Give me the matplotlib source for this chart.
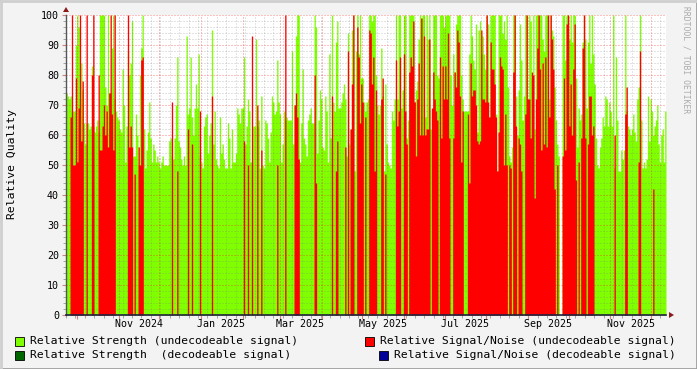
import datetime as dt
import numpy as np
import matplotlib
matplotlib.use("Agg")
import matplotlib.pyplot as plt
import matplotlib.dates as mdates
import matplotlib.transforms as mtransforms
from matplotlib.patches import Rectangle, Polygon
from matplotlib.lines import Line2D

# ---------------- data (one consolidated value per step, starting 2024-09-23) ----------------
start_date = dt.datetime(2024, 9, 23)
step = dt.timedelta(hours=23.75)

strength_undecodeable = [
    # strip 1
    74, 73, 72, 73, 68, 68, 68, 90, 100, 96, 72, 84, 75, 64, 57, 64, 64, 62, 63, 83,
    63, 61, 63, 65, 61, 100, 100, 100, 100, 76, 70, 100, 74, 74, 89, 100, 72, 68, 66, 65,
    62, 61, 82, 70, 51, 63, 88, 80, 84, 98, 53, 53, 67, 60, 50, 80, 89, 100, 62, 49,
    55, 61, 71, 59, 51, 57, 55, 51, 53, 51, 49, 51, 53, 50, 50,
    # strip 2
    50, 50, 58, 59, 53, 52, 59, 70, 86, 58, 56, 52, 50, 53, 50, 93, 67, 69, 86, 66,
    60, 69, 77, 69, 87, 53, 51, 49, 63, 66, 67, 54, 60, 64, 95, 57, 68, 52, 50, 49,
    66, 54, 57, 52, 49, 49, 64, 59, 49, 62, 51, 51, 54, 69, 67, 64, 69, 69, 86, 57,
    63, 72, 68, 51, 51, 63, 63, 92, 63, 65, 49, 73, 50, 49, 65,
    # strip 3
    64, 59, 51, 61, 73, 71, 67, 68, 85, 71, 67, 51, 57, 68, 65, 66, 65, 65, 65, 88,
    57, 70, 93, 100, 100, 51, 64, 82, 59, 57, 53, 65, 67, 69, 64, 64, 100, 96, 54, 65,
    75, 72, 56, 55, 73, 68, 51, 87, 59, 100, 71, 68, 91, 98, 69, 69, 71, 74, 77, 72,
    53, 94, 57, 62, 95, 100, 48, 88, 100, 87, 100, 79, 79, 71, 68,
    # strip 4
    71, 72, 100, 100, 98, 100, 100, 80, 70, 67, 70, 89, 73, 48, 77, 57, 51, 50, 49, 68,
    65, 72, 100, 72, 100, 100, 69, 75, 100, 100, 59, 65, 100, 100, 100, 100, 71, 75, 78, 92,
    100, 99, 100, 100, 66, 100, 92, 100, 62, 68, 100, 100, 100, 80, 79, 100, 100, 100, 96, 100,
    100, 100, 100, 80, 70, 87, 81, 97, 100, 100, 100, 80, 72, 68, 68,
    # strip 5
    68, 68, 87, 100, 93, 85, 82, 97, 61, 95, 98, 87, 93, 87, 82, 100, 97, 63, 100, 100,
    100, 100, 67, 48, 100, 100, 100, 94, 98, 92, 100, 76, 53, 51, 56, 100, 100, 73, 60, 75,
    97, 85, 65, 73, 100, 100, 59, 100, 98, 79, 100, 62, 100, 100, 100, 100, 100, 92, 88, 100,
    100, 100, 72, 100, 95, 93, 76, 65, 57, 53, 0, 0, 100, 100, 85,
    # strip 6
    100, 100, 92, 100, 91, 100, 100, 79, 56, 69, 65, 67, 91, 100, 92, 69, 91, 100, 84, 100,
    87, 77, 59, 50, 49, 56, 59, 66, 63, 73, 72, 63, 71, 68, 63, 100, 49, 86, 65, 48,
    48, 55, 52, 55, 100, 68, 63, 62, 60, 62, 67, 61, 58, 72, 76, 100, 65, 49, 51, 49,
    52, 73, 58, 72, 68, 60, 63, 65, 70, 57, 51, 60, 62, 51, 68,
]

snr_undecodeable = [
    # strip 1
    0, 0, 0, 66, 100, 50, 50, 79, 51, 69, 100, 58, 78, 0, 0, 100, 0, 0, 0, 80,
    100, 0, 0, 0, 80, 55, 55, 63, 70, 60, 68, 56, 74, 100, 67, 55, 100, 0, 0, 0,
    0, 0, 0, 0, 0, 0, 100, 56, 63, 56, 0, 47, 0, 0, 56, 50, 85, 86, 0, 0,
    0, 0, 0, 0, 0, 0, 0, 0, 0, 0, 0, 0, 0, 0, 0,
    # strip 2
    0, 0, 0, 0, 71, 0, 0, 0, 48, 0, 0, 0, 0, 0, 0, 0, 62, 0, 0, 57,
    0, 0, 0, 0, 0, 68, 0, 0, 0, 0, 0, 0, 0, 0, 73, 0, 0, 0, 0, 0,
    0, 0, 0, 0, 0, 0, 0, 0, 0, 0, 0, 0, 0, 0, 0, 0, 0, 0, 58, 0,
    0, 50, 0, 0, 93, 0, 0, 0, 70, 0, 0, 55, 0, 0, 0,
    # strip 3
    0, 0, 0, 0, 0, 0, 0, 0, 50, 0, 0, 0, 0, 0, 100, 0, 0, 0, 0, 0,
    0, 70, 74, 66, 52, 0, 0, 0, 0, 0, 0, 0, 0, 0, 0, 0, 80, 44, 0, 0,
    0, 0, 0, 0, 0, 0, 0, 0, 0, 73, 0, 0, 48, 58, 0, 0, 0, 0, 0, 56,
    0, 88, 0, 62, 77, 100, 0, 0, 96, 86, 64, 77, 71, 0, 66,
    # strip 4
    0, 0, 95, 94, 77, 86, 48, 75, 0, 0, 0, 72, 79, 0, 47, 0, 0, 0, 0, 0,
    0, 0, 85, 63, 68, 86, 0, 0, 87, 68, 57, 0, 81, 86, 83, 98, 71, 53, 72, 84,
    60, 99, 60, 93, 60, 62, 62, 92, 0, 69, 81, 72, 68, 65, 0, 86, 59, 83, 72, 83,
    72, 94, 59, 0, 0, 59, 81, 76, 95, 91, 73, 51, 68, 0, 0,
    # strip 5
    0, 67, 44, 84, 73, 75, 75, 70, 58, 57, 58, 95, 72, 72, 71, 100, 71, 66, 91, 82,
    82, 77, 66, 48, 61, 86, 83, 82, 50, 67, 50, 0, 50, 49, 0, 81, 100, 63, 0, 59,
    57, 48, 0, 0, 67, 100, 72, 72, 59, 81, 80, 39, 72, 89, 100, 82, 55, 84, 57, 86,
    56, 100, 66, 100, 92, 82, 42, 0, 50, 0, 0, 0, 53, 79, 55,
    # strip 6
    97, 100, 63, 77, 60, 82, 97, 45, 0, 51, 0, 59, 89, 100, 59, 0, 57, 73, 73, 60,
    63, 0, 0, 0, 0, 0, 0, 0, 0, 0, 0, 0, 0, 0, 0, 0, 60, 0, 0, 0,
    0, 0, 0, 0, 67, 76, 0, 0, 0, 0, 0, 0, 0, 0, 51, 88, 0, 0, 0, 0,
    0, 0, 0, 0, 0, 42, 0, 0, 0, 0, 0, 0, 0, 0, 0,
]

y_ticks = [0, 10, 20, 30, 40, 50, 60, 70, 80, 90, 100]
x_label_months = ["Nov 2024", "Jan 2025", "Mar 2025", "May 2025", "Jul 2025", "Sep 2025", "Nov 2025"]

legend_items = [
    ("Relative Strength (undecodeable signal)", "#7FFF00"),
    ("Relative Signal/Noise (undecodeable signal)", "#FF0000"),
    ("Relative Strength  (decodeable signal)", "#006600"),
    ("Relative Signal/Noise (decodeable signal)", "#000099"),
]

# ---------------- figure ----------------
W, H = 697, 369
DPI = 100
BG = "#F3F3F3"
MONO = "DejaVu Sans Mono"

fig = plt.figure(figsize=(W / DPI, H / DPI), dpi=DPI, facecolor=BG)
px_l, px_r, px_t, px_b = 66, 666, 15, 315
ax = fig.add_axes([px_l / W, 1 - px_b / H, (px_r - px_l) / W, (px_b - px_t) / H])
ax.set_facecolor("white")

n = len(strength_undecodeable)
dates = [start_date + step * i for i in range(n + 1)]
g = np.array(strength_undecodeable + [strength_undecodeable[-1]], dtype=float)
r = np.array(snr_undecodeable + [snr_undecodeable[-1]], dtype=float)

ax.fill_between(dates, 0, g, step="post", color="#7FFF00", linewidth=0, antialiased=False, zorder=2)
ax.fill_between(dates, 0, r, step="post", color="#FF0000", linewidth=0, antialiased=False, zorder=3)

ax.set_xlim(dates[0], dates[-1])
ax.set_ylim(0, 100)

# grid
ax.xaxis.set_major_locator(mdates.MonthLocator())
ax.xaxis.set_minor_locator(mdates.WeekdayLocator(byweekday=mdates.MO))
ax.set_yticks(y_ticks)
ax.set_yticks(np.arange(0, 101, 2), minor=True)
ax.grid(which="minor", color="#808080", linestyle=(0, (1.4, 1.4)), linewidth=0.72, alpha=0.22,
        antialiased=False, zorder=4)
ax.grid(which="major", color="#FF2020", linestyle=(0, (1.4, 1.4)), linewidth=0.72, alpha=0.28,
        antialiased=False, zorder=5)
ax.set_axisbelow(False)

ax.xaxis.set_major_formatter(plt.NullFormatter())
ax.tick_params(axis="x", which="major", length=3, color="#D08080", direction="out", width=0.8)
ax.tick_params(axis="x", which="minor", length=2, color="#999999", direction="out", width=0.6)
ax.tick_params(axis="y", which="major", length=3, color="#D08080", direction="out", width=0.8,
               labelsize=7.2, labelcolor="#000000", pad=2)
ax.tick_params(axis="y", which="minor", length=2, color="#999999", direction="out", width=0.6)
for lab in ax.get_yticklabels():
    lab.set_fontfamily(MONO)

# month labels centred in the month
trans = mtransforms.blended_transform_factory(ax.transData, fig.transFigure)
for lbl in x_label_months:
    d = dt.datetime.strptime(lbl, "%b %Y") + dt.timedelta(days=15)
    ax.text(mdates.date2num(d), 1 - 324 / H, lbl, transform=trans, ha="center", va="center",
            fontsize=7.2, family=MONO, color="#000000")

for s in ["top", "right"]:
    ax.spines[s].set_visible(False)
ax.spines["left"].set_color("#555555")
ax.spines["left"].set_linewidth(1)
ax.spines["bottom"].set_color("#202040")
ax.spines["bottom"].set_linewidth(1.2)
ax.spines["left"].set_zorder(6)
ax.spines["bottom"].set_zorder(6)

# axis arrows
def fpt(x, y):
    return (x / W, 1 - y / H)

fig.patches.append(Polygon([fpt(63, 12), fpt(69, 12), fpt(66, 7)], closed=True,
                           transform=fig.transFigure, facecolor="#8B1A1A", edgecolor="none"))
fig.patches.append(Polygon([fpt(669, 312), fpt(669, 318), fpt(674, 315)], closed=True,
                           transform=fig.transFigure, facecolor="#8B1A1A", edgecolor="none"))

# y label and watermark
fig.text(12 / W, 1 - 164 / H, "Relative Quality", rotation=90, ha="center", va="center",
         fontsize=8.2, family=MONO, color="#000000")
fig.text(686 / W, 1 - 60 / H, "RRDTOOL / TOBI OETIKER", rotation=270, ha="center", va="center",
         fontsize=5.8, family=MONO, color="#AAAAAA")

# legend
legend_pos = [(15, 341), (365, 341), (15, 355), (379, 355)]
for (label, col), (lx, ly) in zip(legend_items, legend_pos):
    fig.patches.append(Rectangle(fpt(lx, ly + 4.5), 9 / W, 9 / H, transform=fig.transFigure,
                                 facecolor=col, edgecolor="#000000", linewidth=0.6))
    fig.text((lx + 15) / W, 1 - ly / H, label, ha="left", va="center", fontsize=8.2,
             family=MONO, color="#000000")

# frame shading
fig.add_artist(Line2D([0, 1], [0.5 / H, 0.5 / H], transform=fig.transFigure, color="#9E9E9E", linewidth=2))
fig.add_artist(Line2D([1 - 0.5 / W, 1 - 0.5 / W], [0, 1], transform=fig.transFigure, color="#9E9E9E", linewidth=2))
fig.add_artist(Line2D([0, 1], [1 - 0.5 / H, 1 - 0.5 / H], transform=fig.transFigure, color="#CFCFCF", linewidth=2))
fig.add_artist(Line2D([0.5 / W, 0.5 / W], [0, 1], transform=fig.transFigure, color="#CFCFCF", linewidth=2))

fig.savefig("out.png", dpi=DPI, facecolor=BG)
